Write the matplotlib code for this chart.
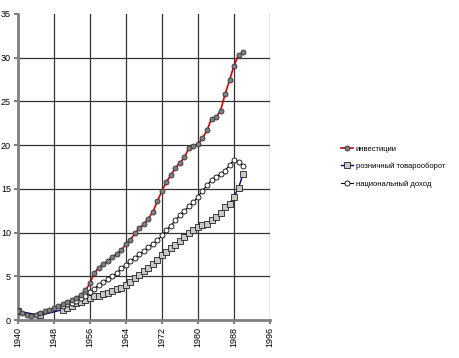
import matplotlib
matplotlib.use("Agg")
import matplotlib.pyplot as plt

# index values (1940 = 1)
inv_years = list(range(1940, 1991))
investments = [1.0, 0.8, 0.55, 0.5, 0.6, 0.8, 1.0, 1.15, 1.35, 1.6,
               1.85, 2.05, 2.3, 2.55, 2.9, 3.4, 4.2, 5.4, 6.0, 6.4,
               6.8, 7.2, 7.6, 8.0, 8.7, 9.2, 9.9, 10.5, 11.0, 11.6,
               12.4, 13.6, 14.8, 15.8, 16.6, 17.4, 18.0, 18.6, 19.7, 19.9,
               20.1, 20.8, 21.7, 23.0, 23.2, 23.9, 25.8, 27.4, 29.1, 30.3,
               30.6]

retail_years = [1940, 1945] + list(range(1950, 1991))
retail = [1.0, 0.55,
          1.2, 1.4, 1.6, 1.9, 2.1, 2.3, 2.5, 2.7, 2.8, 3.0,
          3.1, 3.3, 3.5, 3.7, 4.0, 4.4, 4.8, 5.2, 5.6, 6.0,
          6.4, 6.9, 7.4, 7.8, 8.2, 8.6, 9.0, 9.5, 9.9, 10.3,
          10.6, 10.9, 11.0, 11.4, 11.8, 12.2, 12.9, 13.3, 14.1, 15.1,
          16.7]

income_years = list(range(1950, 1991))
income = [1.6, 1.8, 2.0, 2.2, 2.5, 2.8, 3.2, 3.6, 4.0, 4.3,
          4.7, 5.0, 5.4, 5.9, 6.3, 6.7, 7.1, 7.5, 7.9, 8.3,
          8.7, 9.1, 9.7, 10.3, 10.8, 11.4, 12.0, 12.5, 13.0, 13.5,
          14.1, 14.8, 15.4, 16.0, 16.4, 16.7, 17.1, 17.7, 18.3, 18.1,
          17.6]

labels = ["инвестиции", "розничный товарооборот", "национальный доход"]
x_ticks = list(range(1940, 1997, 8))
y_ticks = list(range(0, 36, 5))

plt.rcParams['font.family'] = ['Liberation Sans', 'DejaVu Sans']

fig = plt.figure(figsize=(4.6, 3.58), dpi=100)
ax = fig.add_axes([0.039, 0.106, 0.548, 0.855])

ax.plot(inv_years, investments, color='#d00000', lw=1.2, marker='o', ms=3.6,
        mfc='#7f7f7f', mec='#333333', mew=0.6, label=labels[0], zorder=4)
ax.plot(retail_years, retail, color='#000080', lw=1.0, marker='s', ms=4.4,
        mfc='#c8c8c8', mec='#222222', mew=0.6, label=labels[1], zorder=3)
ax.plot(income_years, income, color='black', lw=0.8, marker='o', ms=3.6,
        mfc='white', mec='black', mew=0.6, label=labels[2], zorder=3)

ax.set_xlim(1940, 1996)
ax.set_ylim(0, 35)
ax.set_xticks(x_ticks)
ax.set_yticks(y_ticks)
ax.set_xticklabels([str(t) for t in x_ticks], rotation=90, fontsize=6.5)
ax.set_yticklabels([str(t) for t in y_ticks], fontsize=6.5)
ax.grid(True, color='#333333', lw=0.9)
ax.set_axisbelow(True)
# no gridline along the top edge
ax.get_ygridlines()[-1].set_visible(False)

for side in ['top', 'right']:
    ax.spines[side].set_visible(False)
for side in ['left', 'bottom']:
    ax.spines[side].set_color('#808080')
    ax.spines[side].set_linewidth(2)
ax.tick_params(axis='both', colors='#808080', labelcolor='black', length=3, width=1.5, pad=2)

fig.legend(loc='center left', bbox_to_anchor=(0.735, 0.535), frameon=False,
           fontsize=5.5, handlelength=1.6, handletextpad=0.3, labelspacing=1.3,
           borderaxespad=0)

fig.savefig('out.png', dpi=100)
